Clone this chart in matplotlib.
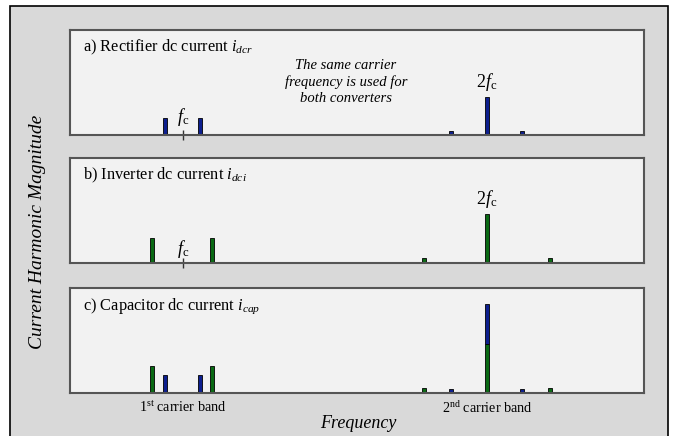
import matplotlib.pyplot as plt
from matplotlib.patches import Rectangle

plt.rcParams["font.family"] = ["Liberation Serif", "DejaVu Serif"]
plt.rcParams["mathtext.fontset"] = "custom"
plt.rcParams["mathtext.rm"] = "Liberation Serif"
plt.rcParams["mathtext.it"] = "Liberation Serif:italic"

# frequency in units of the carrier frequency fc
rect_freq = [0.941, 1.056, 1.882, 2.0, 2.115]
rect_mag = [0.16, 0.16, 0.04, 0.36, 0.04]
inv_freq = [0.898, 1.095, 1.793, 2.0, 2.207]
inv_mag = [0.24, 0.24, 0.045, 0.47, 0.045]
cap_inv_mag = [0.26, 0.26, 0.045, 0.47, 0.045]
cap_rect_mag = [0.17, 0.17, 0.04, 0.38, 0.04]

titles = [r"a) Rectifier dc current $i_{dcr}$",
          r"b) Inverter dc current $i_{dci}$",
          r"c) Capacitor dc current $i_{cap}$"]
band_labels = [r"1$^{\mathrm{st}}$ carrier band", r"2$^{\mathrm{nd}}$ carrier band"]
band_pos = [1.0, 2.0]

BLUE = "#0d1f8f"
GREEN = "#0a6a14"
W = 0.012
XLIM = (0.628, 2.516)

W_PX, H_PX = 676, 436
fig = plt.figure(figsize=(W_PX / 100, H_PX / 100), dpi=100, facecolor="white")
fig.patches.append(Rectangle((10 / W_PX, -0.05), 658 / W_PX, 1.05 - 6 / H_PX,
                             transform=fig.transFigure, facecolor="#d9d9d9",
                             edgecolor="black", linewidth=1.2, zorder=-5))

tops = [30, 158, 288]
axes = []
for t in tops:
    ax = fig.add_axes([70 / W_PX, 1 - (t + 105) / H_PX, 574 / W_PX, 105 / H_PX])
    ax.set_facecolor("#f2f2f2")
    ax.set_xlim(*XLIM)
    ax.set_ylim(0, 1)
    ax.set_yticks([])
    for s in ax.spines.values():
        s.set_color("#555555")
        s.set_linewidth(1.5)
    axes.append(ax)

bar_kw = dict(width=W, edgecolor="black", linewidth=0.6)

# a) rectifier
axes[0].bar(rect_freq, rect_mag, color=BLUE, **bar_kw)
# b) inverter
axes[1].bar(inv_freq, inv_mag, color=GREEN, **bar_kw)
# c) capacitor (both, stacked at 2fc)
ax = axes[2]
ax.bar(inv_freq, cap_inv_mag, color=GREEN, **bar_kw)
bottoms = [cap_inv_mag[inv_freq.index(f)] if f in inv_freq else 0 for f in rect_freq]
ax.bar(rect_freq, cap_rect_mag, bottom=bottoms, color=BLUE, **bar_kw)

for i, ax in enumerate(axes):
    ax.text(0.022, 0.83, titles[i], transform=ax.transAxes, fontsize=11.8, va="center")
    if i < 2:
        ax.set_xticks([1.0])
        ax.tick_params(axis="x", direction="inout", length=7, width=1, labelbottom=False,
                       color="#333333")
    else:
        ax.set_xticks([])

axes[0].text(1.0, 0.17, r"$f_{\mathrm{c}}$", ha="center", va="center", fontsize=13)
axes[1].text(1.0, 0.13, r"$f_{\mathrm{c}}$", ha="center", va="center", fontsize=13)
axes[0].text(2.0, 0.50, r"2$f_{\mathrm{c}}$", ha="center", va="center", fontsize=13)
axes[1].text(2.0, 0.61, r"2$f_{\mathrm{c}}$", ha="center", va="center", fontsize=13)

axes[0].text(1.535, 0.505, "The same carrier\nfrequency is used for\nboth converters",
             ha="center", va="center", fontsize=10.5, style="italic", linespacing=1.3)

for lab, pos in zip(band_labels, band_pos):
    axes[2].text(pos, -0.14, lab, ha="center", va="center", fontsize=10.2)

fig.text(358 / W_PX, 1 - 423 / H_PX, "Frequency", ha="center", va="center",
         fontsize=13, style="italic")
fig.text(38 / W_PX, 1 - 232 / H_PX, "Current Harmonic Magnitude", ha="center",
         va="center", rotation=90, fontsize=14, style="italic")

fig.savefig("out.png", dpi=100, facecolor="white")
